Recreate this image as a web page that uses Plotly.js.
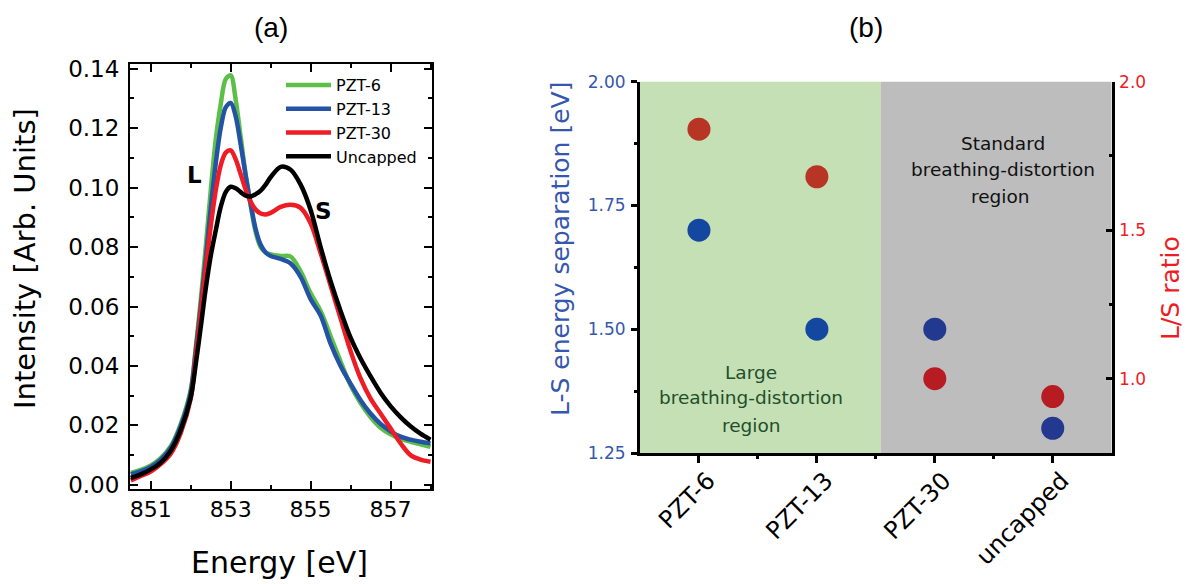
<!DOCTYPE html>
<html>
<head>
<meta charset="utf-8">
<script src="https://cdn.plot.ly/plotly-3.0.1.min.js"></script>
<style>html,body{margin:0;padding:0;background:#fff;}#chart{width:1186px;height:584px;}</style>
</head>
<body>
<div id="chart"></div>
<script>
// ---------- Panel (a) data ----------
const energy = [850.5, 850.75, 851.0, 851.25, 851.5, 851.75, 852.0, 852.125, 852.25, 852.375,
                852.5, 852.625, 852.75, 852.875, 853.0, 853.125, 853.25, 853.375, 853.5, 853.625,
                853.75, 853.875, 854.0, 854.25, 854.5, 854.75, 855.0, 855.25, 855.5, 855.75,
                856.0, 856.25, 856.5, 856.75, 857.0, 857.25, 857.5, 857.75, 858.0];
const pzt6 = [0.0040, 0.0050, 0.0065, 0.0090, 0.0130, 0.0205, 0.0320, 0.0460, 0.0620, 0.0800,
              0.0990, 0.1160, 0.1280, 0.1365, 0.1378, 0.1295, 0.1170, 0.1045, 0.0940, 0.0850,
              0.0800, 0.0782, 0.0775, 0.0770, 0.0768, 0.0718, 0.0645, 0.0585, 0.0500, 0.0415,
              0.0335, 0.0275, 0.0228, 0.0192, 0.0170, 0.0155, 0.0145, 0.0136, 0.0128];
const pzt13 = [0.0035, 0.0045, 0.0060, 0.0085, 0.0125, 0.0198, 0.0312, 0.0450, 0.0600, 0.0760,
               0.0930, 0.1080, 0.1200, 0.1270, 0.1285, 0.1240, 0.1145, 0.1040, 0.0945, 0.0860,
               0.0808, 0.0782, 0.0770, 0.0760, 0.0745, 0.0700, 0.0625, 0.0570, 0.0475, 0.0400,
               0.0340, 0.0285, 0.0240, 0.0205, 0.0180, 0.0162, 0.0152, 0.0145, 0.0140];
const pzt30 = [0.0015, 0.0030, 0.0045, 0.0070, 0.0105, 0.0175, 0.0290, 0.0430, 0.0580, 0.0730,
               0.0870, 0.0990, 0.1075, 0.1118, 0.1125, 0.1095, 0.1045, 0.0993, 0.0952, 0.0926,
               0.0913, 0.0910, 0.0915, 0.0935, 0.0942, 0.0932, 0.0880, 0.0780, 0.0670, 0.0560,
               0.0450, 0.0358, 0.0290, 0.0240, 0.0190, 0.0140, 0.0100, 0.0085, 0.0078];
const uncapped = [0.0023, 0.0035, 0.0052, 0.0075, 0.0115, 0.0185, 0.0295, 0.0405, 0.0530, 0.0660,
                  0.0770, 0.0855, 0.0935, 0.0985, 0.1003, 0.0998, 0.0985, 0.0973, 0.0970, 0.0978,
                  0.0990, 0.1010, 0.1035, 0.1070, 0.1060, 0.1010, 0.0925, 0.0800, 0.0685, 0.0585,
                  0.0495, 0.0425, 0.0365, 0.0310, 0.0265, 0.0228, 0.0197, 0.0172, 0.0152];
const seriesNames = ['PZT-6', 'PZT-13', 'PZT-30', 'Uncapped'];
const xTicksA = [851, 853, 855, 857];

// ---------- Panel (b) data ----------
const categories = ['PZT-6', 'PZT-13', 'PZT-30', 'uncapped'];
const lsSeparation = [1.70, 1.50, 1.50, 1.30];   // left axis, eV
const lsRatio = [1.84, 1.68, 1.00, 0.94];        // right axis

const catPos = categories.map((c, i) => i);

const FONT = 'DejaVu Sans, Liberation Sans, sans-serif';
const BLUE_TXT = '#3557b0';
const RED_TXT = '#ee1c25';

const lineColors = ['#5cbf47', '#2453a6', '#ee1c25', '#000000'];
const seriesA = [pzt6, pzt13, pzt30, uncapped];

const traces = seriesA.map((s, i) => ({
  x: energy, y: s, name: seriesNames[i], type: 'scatter', mode: 'lines',
  line: {color: lineColors[i], width: 4.5, shape: 'spline', smoothing: 0.9},
  xaxis: 'x', yaxis: 'y', showlegend: true
}));

traces.push({
  x: catPos, y: lsSeparation, type: 'scatter', mode: 'markers', name: 'L-S separation',
  marker: {size: 23, color: ['#1448a0', '#1448a0', '#23398f', '#23398f']},
  xaxis: 'x2', yaxis: 'y2', showlegend: false
});
traces.push({
  x: catPos, y: lsRatio, type: 'scatter', mode: 'markers', name: 'L/S ratio',
  marker: {size: 23, color: ['#b83525', '#b83525', '#b81c23', '#b81c23']},
  xaxis: 'x2', yaxis: 'y3', showlegend: false
});

const W = 1186, H = 584;
const px = v => v / W, py = v => 1 - v / H;

function note(text, x, y, font, extra) {
  return Object.assign({text: text, xref: 'paper', yref: 'paper', x: px(x), y: py(y),
    xanchor: 'center', yanchor: 'middle', showarrow: false, font: font}, extra || {});
}

const regionFontG = {family: FONT, size: 18.5, color: '#1f4f2c'};
const regionFontS = {family: FONT, size: 18.5, color: '#111'};

const layout = {
  width: W, height: H,
  margin: {l: 0, r: 0, t: 0, b: 0},
  paper_bgcolor: '#ffffff', plot_bgcolor: 'rgba(0,0,0,0)',
  font: {family: FONT, color: '#000'},
  showlegend: true,
  legend: {
    x: px(281), y: py(68), xanchor: 'left', yanchor: 'top',
    bgcolor: 'rgba(0,0,0,0)', borderwidth: 0,
    font: {family: FONT, size: 16, color: '#000'},
    itemwidth: 45, tracegroupgap: 0
  },
  xaxis: {
    domain: [px(130), px(431.7)], anchor: 'y', range: [850.48, 858.03],
    tickmode: 'array', tickvals: xTicksA, ticks: 'inside', ticklen: 8, tickwidth: 2, tickcolor: '#000',
    minor: {tickmode: 'array', tickvals: [852, 854, 856, 858], ticks: 'inside', ticklen: 4, tickwidth: 2, tickcolor: '#000'},
    showline: true, linecolor: '#000', linewidth: 2, mirror: 'allticks',
    showgrid: false, zeroline: false, automargin: false,
    tickfont: {family: FONT, size: 22, color: '#000'}
  },
  yaxis: {
    domain: [py(489), py(64)], anchor: 'x', range: [-0.0014, 0.1416],
    tickmode: 'array', tickvals: [0, 0.02, 0.04, 0.06, 0.08, 0.10, 0.12, 0.14],
    ticktext: ['0.00', '0.02', '0.04', '0.06', '0.08', '0.10', '0.12', '0.14'],
    ticks: 'inside', ticklen: 8, tickwidth: 2, tickcolor: '#000',
    minor: {tickmode: 'array', tickvals: [0.01, 0.03, 0.05, 0.07, 0.09, 0.11, 0.13], ticks: 'inside', ticklen: 4, tickwidth: 2, tickcolor: '#000'},
    showline: true, linecolor: '#000', linewidth: 2, mirror: 'allticks',
    showgrid: false, zeroline: false, automargin: false, ticklabelstandoff: 4,
    tickfont: {family: FONT, size: 23, color: '#000'}
  },
  xaxis2: {
    domain: [px(640), px(1111.7)], anchor: 'y2', range: [-0.5, 3.5],
    tickmode: 'array', tickvals: catPos, ticktext: categories, tickangle: -45,
    ticks: 'outside', ticklen: 7, tickwidth: 3, tickcolor: '#000',
    minor: {tickmode: 'array', tickvals: [0.5, 1.5, 2.5], ticks: 'outside', ticklen: 3, tickwidth: 3, tickcolor: '#000'},
    showline: true, linecolor: '#000', linewidth: 3, mirror: false,
    showgrid: false, zeroline: false, automargin: false,
    ticklabelshift: 9, ticklabelstandoff: -6,
    tickfont: {family: FONT, size: 24, color: '#000'}
  },
  xaxis3: {
    overlaying: 'x2', side: 'top', anchor: 'y2', range: [-0.5, 3.5],
    tickmode: 'array', tickvals: catPos, showticklabels: false,
    ticks: 'inside', ticklen: 6, tickwidth: 3, tickcolor: '#000',
    minor: {tickmode: 'array', tickvals: [0.5, 1.5, 2.5], ticks: 'inside', ticklen: 3, tickwidth: 3, tickcolor: '#000'},
    showline: true, linecolor: '#000', linewidth: 3,
    showgrid: false, zeroline: false, automargin: false
  },
  yaxis2: {
    domain: [py(453), py(81.7)], anchor: 'x2', range: [1.25, 2.0],
    tickmode: 'array', tickvals: [1.25, 1.5, 1.75, 2.0], ticktext: ['1.25', '1.50', '1.75', '2.00'],
    ticks: 'outside', ticklen: 6, tickwidth: 3, tickcolor: '#000',
    minor: {tickmode: 'array', tickvals: [1.375, 1.625, 1.875], ticks: 'outside', ticklen: 3, tickwidth: 3, tickcolor: '#000'},
    showline: true, linecolor: '#000', linewidth: 3,
    showgrid: false, zeroline: false, automargin: false, ticklabelstandoff: 2,
    tickfont: {family: FONT, size: 17, color: BLUE_TXT}
  },
  yaxis3: {
    overlaying: 'y2', side: 'right', anchor: 'x2', range: [0.75, 2.0],
    tickmode: 'array', tickvals: [1.0, 1.5, 2.0], ticktext: ['1.0', '1.5', '2.0'],
    ticks: 'inside', ticklen: 6, tickwidth: 3, tickcolor: '#000',
    minor: {tickmode: 'array', tickvals: [1.25, 1.75], ticks: 'inside', ticklen: 3, tickwidth: 3, tickcolor: '#000'},
    showline: true, linecolor: '#000', linewidth: 3,
    showgrid: false, zeroline: false, automargin: false, ticklabelstandoff: 1,
    tickfont: {family: FONT, size: 17, color: RED_TXT}
  },
  shapes: [
    {type: 'rect', xref: 'x2', yref: 'y2 domain', x0: -0.5, x1: 1.54, y0: 0, y1: 1,
     fillcolor: '#c5e0b4', line: {width: 0}, layer: 'below'},
    {type: 'rect', xref: 'x2', yref: 'y2 domain', x0: 1.54, x1: 3.5, y0: 0, y1: 1,
     fillcolor: '#bdbdbd', line: {width: 0}, layer: 'below'}
  ],
  annotations: [
    note('(a)', 271, 28, {family: 'Liberation Sans Narrow, Liberation Sans, sans-serif', size: 28, color: '#000'}),
    note('(b)', 866, 28, {family: 'Liberation Sans Narrow, Liberation Sans, sans-serif', size: 28, color: '#000'}),
    note('Intensity [Arb. Units]', 25, 259, {family: FONT, size: 29, color: '#000'}, {textangle: -90}),
    note('Energy [eV]', 279, 562, {family: FONT, size: 30, color: '#000'}),
    {text: 'L', xref: 'x', yref: 'y', x: 852.1, y: 0.1043, showarrow: false, xanchor: 'center', yanchor: 'middle',
     font: {family: FONT, size: 23, color: '#000', weight: 'bold'}},
    {text: 'S', xref: 'x', yref: 'y', x: 855.31, y: 0.0922, showarrow: false, xanchor: 'center', yanchor: 'middle',
     font: {family: FONT, size: 23, color: '#000', weight: 'bold'}},
    note('L-S energy separation [eV]', 560, 249, {family: FONT, size: 25, color: BLUE_TXT}, {textangle: -90}),
    note('L/S ratio', 1170, 288, {family: FONT, size: 25, color: RED_TXT}, {textangle: -90}),
    note('Large', 751, 372, regionFontG),
    note('breathing-distortion', 751, 398, regionFontG),
    note('region', 751, 425, regionFontG),
    note('Standard', 1003, 143, regionFontS),
    note('breathing-distortion', 1003, 170, regionFontS),
    note('region', 1000, 196, regionFontS)
  ]
};

Plotly.newPlot('chart', traces, layout, {staticPlot: true, displayModeBar: false});
</script>
</body>
</html>
